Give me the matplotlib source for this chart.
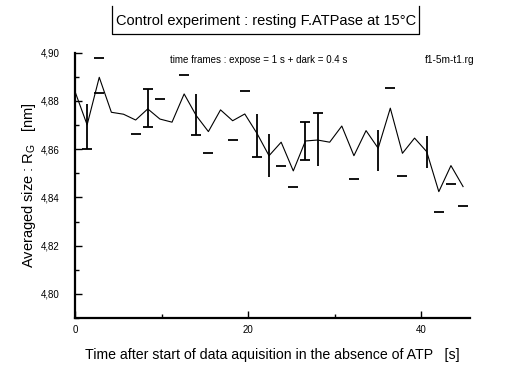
import numpy as np
import matplotlib
matplotlib.use("Agg")
import matplotlib.pyplot as plt
from matplotlib.lines import Line2D
from matplotlib.ticker import FuncFormatter, MultipleLocator, FixedLocator

plt.rcParams['font.family'] = ['Liberation Sans', 'DejaVu Sans']
plt.rcParams['mathtext.fontset'] = 'custom'
plt.rcParams['mathtext.rm'] = 'Liberation Sans'
plt.rcParams['mathtext.it'] = 'Liberation Sans'

# ---- data ----
frame_step = 1.4  # expose 1 s + dark 0.4 s
rg_values = [4.8839, 4.8701, 4.8898, 4.8753, 4.8745, 4.8721, 4.8767, 4.8725,
             4.8712, 4.8829, 4.8739, 4.8673, 4.8763, 4.8718, 4.8746, 4.8666,
             4.8573, 4.8629, 4.8510, 4.8634, 4.8638, 4.8629, 4.8696, 4.8573,
             4.8677, 4.8604, 4.8770, 4.8583, 4.8646, 4.8590, 4.8424, 4.8532,
             4.8445]
times = [frame_step * i for i in range(len(rg_values))]

# vertical error-bar segments (frame index, low, high)
bar_idx = [1, 6, 10, 15, 16, 19, 20, 25, 29]
bar_lo = [4.8601, 4.8691, 4.8659, 4.8567, 4.8484, 4.8556, 4.8532, 4.8511, 4.8524]
bar_hi = [4.8788, 4.8848, 4.8829, 4.8746, 4.8663, 4.8712, 4.8749, 4.8680, 4.8655]

# error-bar caps (frame index, value)
cap_idx = [1, 2, 2, 5, 6, 6, 7, 9, 10, 11, 13, 14, 15, 17, 18, 19, 19, 20,
           23, 26, 27, 30, 31, 32]
cap_val = [4.8601, 4.8977, 4.8832, 4.8662, 4.8848, 4.8691, 4.8807, 4.8908,
           4.8659, 4.8584, 4.8639, 4.8841, 4.8567, 4.8531, 4.8445, 4.8712,
           4.8556, 4.8749, 4.8476, 4.8853, 4.8490, 4.8339, 4.8456, 4.8365]

x_major = [0, 20, 40]
x_minor = [10, 30]

title = "Control experiment : resting F.ATPase at 15°C"
subtitle = "time frames : expose = 1 s + dark = 0.4 s"
file_tag = "f1-5m-t1.rg"
xlabel = "Time after start of data aquisition in the absence of ATP   [s]"
ylabel = "Averaged size : R$_\\mathrm{G}$   [nm]"

# ---- figure ----
fig = plt.figure(figsize=(5.12, 3.76), dpi=100)
W, H = 512, 376
ax = fig.add_axes([75 / W, 1 - 318.3 / H, (470 - 75) / W, (318.3 - 52.7) / H])

ax.plot(times, rg_values, color='black', lw=0.8)
ax.vlines([times[i] for i in bar_idx], bar_lo, bar_hi, color='black', lw=1.3)
ax.plot([times[i] for i in cap_idx], cap_val, linestyle='none', marker='_',
        markersize=7.8, markeredgewidth=1.3, color='black')

ax.set_xlim(0, 45.6)
ax.set_ylim(4.7899, 4.90)

for s in ['top', 'right']:
    ax.spines[s].set_visible(False)
for s in ['left', 'bottom']:
    ax.spines[s].set_linewidth(1.6)

ax.xaxis.set_major_locator(FixedLocator(x_major))
ax.xaxis.set_minor_locator(FixedLocator(x_minor))
ax.yaxis.set_major_locator(MultipleLocator(0.02))
ax.yaxis.set_minor_locator(MultipleLocator(0.01))
ax.yaxis.set_major_formatter(FuncFormatter(lambda v, p: f"{v:.2f}".replace('.', ',')))
ax.xaxis.set_major_formatter(FuncFormatter(lambda v, p: f"{v:.0f}"))

ax.tick_params(which='major', direction='in', length=5, width=1, labelsize=7, colors='black')
ax.tick_params(which='minor', direction='in', length=3, width=1)
ax.tick_params(axis='y', which='major', pad=11)
ax.tick_params(axis='x', which='major', pad=5)

ax.set_xlabel(xlabel, fontsize=10.2, labelpad=9)
ax.set_ylabel(ylabel, fontsize=10.5, labelpad=2)

# title with (open-top) box
fig.text(266 / W, 1 - 21 / H, title, ha='center', va='center', fontsize=10.5)
bx0, bx1, by0, by1 = 112 / W, 419 / W, 1 - 34 / H, 1 - 6 / H
fig.add_artist(Line2D([bx0, bx0, bx1, bx1], [by1, by0, by0, by1],
                      transform=fig.transFigure, color='black', lw=0.9))

fig.text(259 / W, 1 - 60 / H, subtitle, ha='center', va='center', fontsize=7)
fig.text(450 / W, 1 - 60 / H, file_tag, ha='center', va='center', fontsize=7.3)

fig.savefig("out.png", dpi=100)
